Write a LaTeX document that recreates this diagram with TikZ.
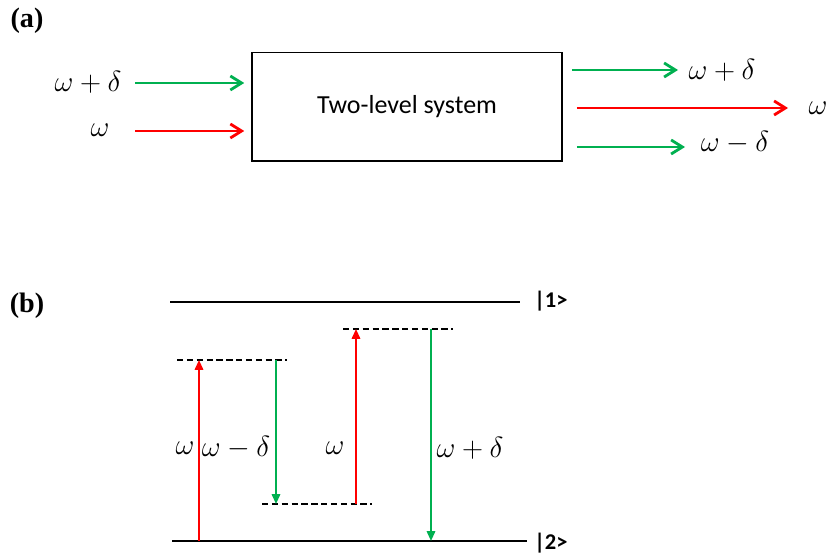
\documentclass[tikz,border=0pt]{standalone}
\usepackage{fontspec}
\usepackage{tikz}
\usetikzlibrary{arrows.meta,positioning,calc}
\setsansfont{Carlito}
\newfontfamily\panelfont{Liberation Serif}
\definecolor{beamgreen}{HTML}{00B050}
\definecolor{beamred}{HTML}{FF0000}

\begin{document}
\begin{tikzpicture}[x=0.025cm, y=-0.025cm,
  panel/.style={font=\panelfont\bfseries\fontsize{20}{24}\selectfont, inner sep=0pt},
  freq/.style={font=\fontsize{20}{24}\selectfont, inner sep=0pt},
  ket/.style={font=\sffamily\bfseries\fontsize{16}{19}\selectfont, inner sep=0pt, anchor=west},
  sysbox/.style={draw, line width=1.3pt, minimum width=7.75cm, minimum height=2.72cm, font=\sffamily\fontsize{18.5}{22}\selectfont},
  beam/.style={line width=2pt, -{Straight Barb[length=8pt, width=10pt, line width=2pt]}},
  level/.style={line width=1.6pt},
  virt/.style={line width=1.3pt, dash pattern=on 4.5pt off 2.5pt},
  trans/.style={line width=1.3pt, -{Triangle[length=7pt, width=6pt]}}
]
  \useasboundingbox (0,0) rectangle (829,557);

  % (a)
  \node[panel] (pa) at (27,21) {(a)};
  \node[sysbox] (sys) at (407,107) {Two-level system};

  \node[freq] (inhi) at (88,82) {$\omega+\delta$};
  \node[freq] (inmid) at (100,130) {$\omega$};
  \coordinate (in1) at (135,83);
  \coordinate (in2) at (135,131);
  \draw[beam, beamgreen, shorten >=0.17cm] (in1) -- (in1 -| sys.west);
  \draw[beam, beamred, shorten >=0.17cm] (in2) -- (in2 -| sys.west);

  \coordinate (out1) at (678,70);
  \coordinate (out2) at (788,108);
  \coordinate (out3) at (685,147);
  \draw[beam, beamgreen, shorten <=0.22cm] (sys.east |- out1) -- (out1);
  \draw[beam, beamred, shorten <=0.35cm] (sys.east |- out2) -- (out2);
  \draw[beam, beamgreen, shorten <=0.35cm] (sys.east |- out3) -- (out3);
  \node[freq] (outhi) at (722,70) {$\omega+\delta$};
  \node[freq] (outmid) at (818,108) {$\omega$};
  \node[freq] (outlo) at (735,143) {$\omega-\delta$};

  % (b)
  \node[panel] (pb) at (27,306) {(b)};

  \coordinate (up1) at (170,302);
  \coordinate (up2) at (520,302);
  \coordinate (lo1) at (172,541);
  \coordinate (lo2) at (527,541);
  \draw[level] (up1) -- (up2);
  \draw[level] (lo1) -- (lo2);
  \node[ket] (k1) at (534,301) {|1>};
  \node[ket] (k2) at (534,543) {|2>};

  \coordinate (va1) at (177,360);
  \coordinate (va2) at (287,360);
  \coordinate (vb1) at (343,329);
  \coordinate (vb2) at (453,329);
  \coordinate (vc1) at (262,504);
  \coordinate (vc2) at (372,504);
  \draw[virt] (va1) -- (va2);
  \draw[virt] (vb1) -- (vb2);
  \draw[virt] (vc1) -- (vc2);

  \coordinate (c1) at (199,541);
  \coordinate (c2) at (276,360);
  \coordinate (c3) at (356,504);
  \coordinate (c4) at (431,329);
  \draw[trans, beamred] (c1) -- (c1 |- va1);
  \draw[trans, beamgreen] (c2) -- (c2 |- vc1);
  \draw[trans, beamred] (c3) -- (c3 |- vb1);
  \draw[trans, beamgreen] (c4) -- (c4 |- lo1);

  \node[freq] (l1) at (185,448) {$\omega$};
  \node[freq] (l2) at (236,448) {$\omega-\delta$};
  \node[freq] (l3) at (335,448) {$\omega$};
  \node[freq] (l4) at (470,448) {$\omega+\delta$};
\end{tikzpicture}
\end{document}
